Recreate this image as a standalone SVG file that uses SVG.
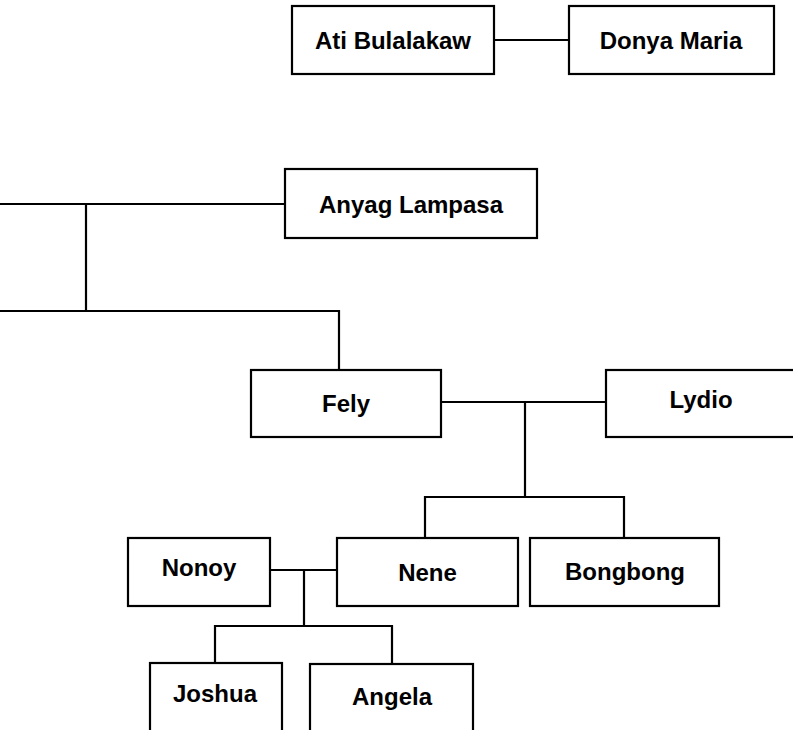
<svg xmlns="http://www.w3.org/2000/svg" width="793" height="730" viewBox="0 0 793 730">
<style>
.box{fill:#fff;stroke:#000;stroke-width:2.2}
.lbl{font-family:"Liberation Sans",Arial,sans-serif;font-weight:bold;font-size:24px;fill:#000;text-anchor:middle}
.con{fill:none;stroke:#000;stroke-width:2.2}
</style>
<rect width="793" height="730" fill="#fff"/>
<g id="connectors" class="con">
<path d="M494 40H569"/>
<path d="M0 204H285"/>
<path d="M86 204V311"/>
<path d="M0 311H339V370"/>
<path d="M441 402H606"/>
<path d="M525 402V497"/>
<path d="M425 538V497H624V538"/>
<path d="M270 570H337"/>
<path d="M304 570V626"/>
<path d="M215 663V626H392V664"/>
</g>
<g id="ati"><rect class="box" x="292" y="6" width="202" height="68"/><text class="lbl" x="393" y="49">Ati Bulalakaw</text></g>
<g id="donya"><rect class="box" x="569" y="6" width="205" height="68"/><text class="lbl" x="671" y="49">Donya Maria</text></g>
<g id="anyag"><rect class="box" x="285" y="169" width="252" height="69"/><text class="lbl" x="411" y="213">Anyag Lampasa</text></g>
<g id="fely"><rect class="box" x="251" y="370" width="190" height="67"/><text class="lbl" x="346" y="412">Fely</text></g>
<g id="lydio"><rect class="box" x="606" y="370" width="192" height="67"/><text class="lbl" x="701" y="408">Lydio</text></g>
<g id="nene"><rect class="box" x="337" y="538" width="181" height="68"/><text class="lbl" x="427.5" y="581">Nene</text></g>
<g id="bongbong"><rect class="box" x="530" y="538" width="189" height="68"/><text class="lbl" x="625" y="580">Bongbong</text></g>
<g id="nonoy"><rect class="box" x="128" y="538" width="142" height="68"/><text class="lbl" x="199" y="576">Nonoy</text></g>
<g id="joshua"><rect class="box" x="150" y="663" width="132" height="80"/><text class="lbl" x="215" y="702">Joshua</text></g>
<g id="angela"><rect class="box" x="310" y="664" width="163" height="80"/><text class="lbl" x="392" y="705">Angela</text></g>
</svg>
